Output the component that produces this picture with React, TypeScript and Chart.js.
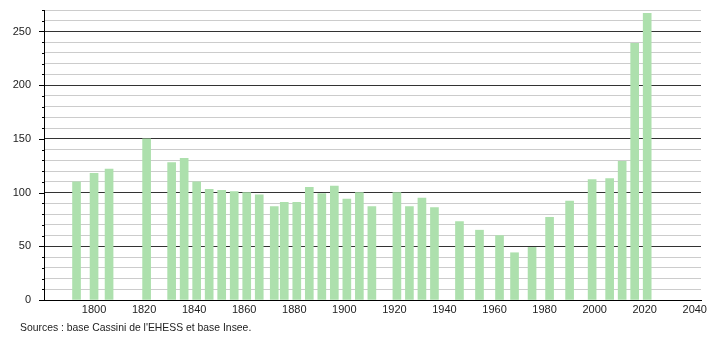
import { useEffect, useRef } from "react";
import { Chart, registerables } from "chart.js";

Chart.register(...registerables);

const years = [1793, 1800, 1806, 1821, 1831, 1836, 1841, 1846, 1851, 1856, 1861, 1866, 1872, 1876, 1881, 1886, 1891, 1896, 1901, 1906, 1911, 1921, 1926, 1931, 1936, 1946, 1954, 1962, 1968, 1975, 1982, 1990, 1999, 2006, 2011, 2016, 2021];
const population = [110, 118, 122, 150, 128, 132, 110, 103, 102, 101, 100, 98, 87, 91, 91, 105, 99, 106, 94, 100, 87, 100, 87, 95, 86, 73, 65, 60, 44, 49, 77, 92, 112, 113, 129, 239, 267];
const xTickLabels = [1800, 1820, 1840, 1860, 1880, 1900, 1920, 1940, 1960, 1980, 2000, 2020, 2040];
const sourceText = "Sources : base Cassini de l'EHESS et base Insee.";

const FONT = "'Liberation Sans', Arial, sans-serif";

export default function App() {
  const ref = useRef<HTMLCanvasElement | null>(null);

  useEffect(() => {
    if (!ref.current) return;
    const tickPlugin = {
      id: "yTicksAndSource",
      afterDraw(chart: any) {
        const ctx = chart.ctx;
        const y = chart.scales.y;
        const x0 = chart.chartArea.left;
        ctx.save();
        ctx.strokeStyle = "#000";
        ctx.lineWidth = 1;
        y.ticks.forEach((t: any) => {
          const py = Math.round(y.getPixelForValue(t.value)) + 0.5;
          const len = t.value % 50 === 0 ? 5 : 2;
          ctx.beginPath();
          ctx.moveTo(x0 - len, py);
          ctx.lineTo(x0, py);
          ctx.stroke();
        });
        ctx.fillStyle = "#222";
        ctx.font = `10.4px ${FONT}`;
        ctx.textBaseline = "middle";
        ctx.textAlign = "left";
        ctx.fillText(sourceText, 20, 328);
        ctx.restore();
      },
    };

    const chart = new Chart(ref.current, {
      type: "bar",
      data: {
        datasets: [
          {
            data: years.map((yr, i) => ({ x: yr, y: population[i] })),
            backgroundColor: "#ade0ad",
            borderWidth: 0,
            barThickness: 8,
          },
        ],
      },
      options: {
        animation: false,
        responsive: false,
        maintainAspectRatio: false,
        layout: { padding: { left: 0, top: 10, right: 9, bottom: 0 } },
        plugins: {
          legend: { display: false },
          tooltip: { enabled: false },
        },
        scales: {
          x: {
            type: "linear",
            min: 1780,
            max: 2042.5,
            offset: false,
            afterBuildTicks: (scale: any) => {
              scale.ticks = xTickLabels.map((v) => ({ value: v }));
            },
            afterFit: (scale: any) => {
              scale.height = 40;
              scale.paddingLeft = 0;
              scale.paddingRight = 0;
            },
            grid: { display: false, drawTicks: false },
            border: { display: true, color: "#000", width: 1 },
            ticks: {
              autoSkip: false,
              maxRotation: 0,
              padding: 3,
              color: "#222",
              font: { family: FONT, size: 11 },
              callback: (v: any) => String(v),
            },
          },
          y: {
            min: 0,
            max: 270,
            afterFit: (scale: any) => {
              scale.width = 44;
              scale.paddingTop = 0;
              scale.paddingBottom = 0;
            },
            grid: {
              drawTicks: false,
              color: (c: any) => (c.tick && c.tick.value % 50 === 0 && c.tick.value !== 0 ? "#333" : "#cccccc"),
              lineWidth: 1,
            },
            border: { display: true, color: "#000", width: 1 },
            ticks: {
              stepSize: 10,
              autoSkip: false,
              padding: 13,
              color: "#222",
              font: { family: FONT, size: 11 },
              callback: (v: any) => (Number(v) % 50 === 0 ? String(v) : ""),
            },
          },
        },
      },
      plugins: [tickPlugin],
    });
    return () => chart.destroy();
  }, []);

  return (
    <div style={{ position: "absolute", left: 0, top: 0, width: 710, height: 340, background: "#fff" }}>
      <canvas ref={ref} width={710} height={340} style={{ display: "block", width: 710, height: 340 }} />
    </div>
  );
}
